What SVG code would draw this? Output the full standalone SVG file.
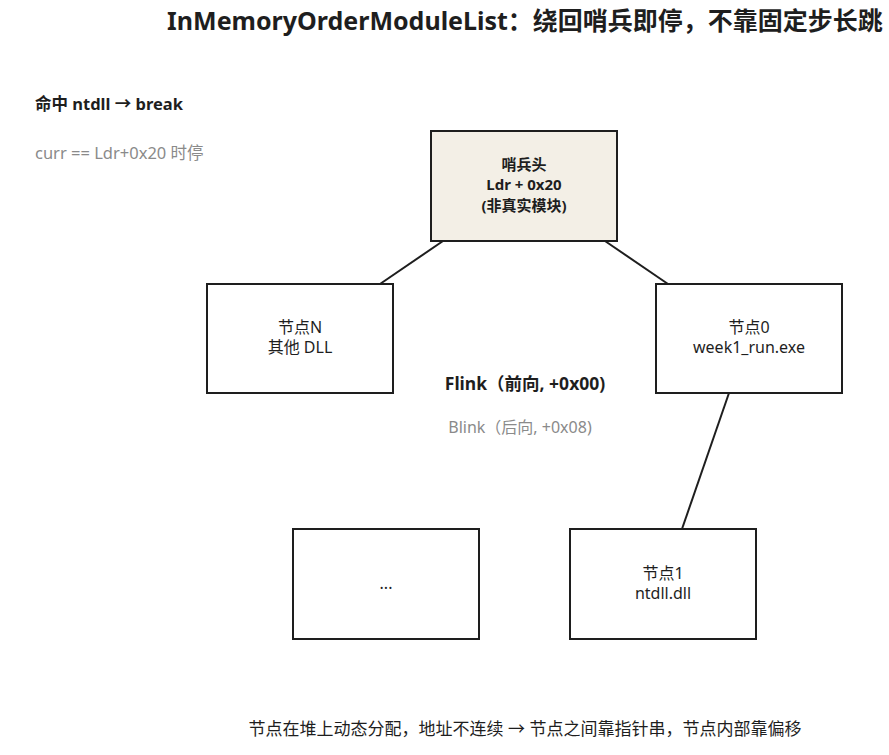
<svg xmlns="http://www.w3.org/2000/svg" width="889" height="755" viewBox="0 0 889 755">
<style>
text{font-family:"Noto Sans","Noto Sans CJK SC",sans-serif;fill:#1e1e1e}
.box{fill:#fff;stroke:#1e1e1e;stroke-width:2}
.n{font-size:16px;text-anchor:middle}
.g{fill:#8a8a8a}
</style>
<rect width="889" height="755" fill="#fff"/>
<text x="525" y="30" font-size="25" font-weight="bold" text-anchor="middle">InMemoryOrderModuleList：绕回哨兵即停，不靠固定步长跳</text>
<text x="35" y="110" font-size="16.5" font-weight="bold">命中 ntdll → break</text>
<text x="35" y="159" font-size="16.5" class="g">curr == Ldr+0x20 时停</text>
<g id="connectors" stroke="#1e1e1e" stroke-width="2">
<line x1="443" y1="241" x2="380" y2="284"/>
<line x1="605" y1="241" x2="668" y2="284"/>
<line x1="729" y1="393" x2="682" y2="529"/>
</g>
<g id="sentinel"><rect x="431" y="131" width="186" height="110" class="box" style="fill:#f3efe6"/>
<text class="n" font-weight="bold" style="font-size:15px"><tspan x="524" y="170">哨兵头</tspan><tspan x="524" y="190">Ldr + 0x20</tspan><tspan x="524" y="211">(非真实模块)</tspan></text></g>
<g id="nodeN"><rect x="207" y="284" width="186" height="109" class="box"/>
<text class="n"><tspan x="300" y="333">节点N</tspan><tspan x="300" y="353">其他 DLL</tspan></text></g>
<g id="node0"><rect x="656" y="284" width="186" height="109" class="box"/>
<text class="n"><tspan x="749" y="333">节点0</tspan><tspan x="749" y="353">week1_run.exe</tspan></text></g>
<g id="dots"><rect x="293" y="529" width="186" height="110" class="box"/>
<text class="n" x="386" y="589">...</text></g>
<g id="node1"><rect x="570" y="529" width="186" height="110" class="box"/>
<text class="n"><tspan x="663" y="579">节点1</tspan><tspan x="663" y="599">ntdll.dll</tspan></text></g>
<text x="525" y="390" font-size="17.5" font-weight="bold" text-anchor="middle">Flink（前向, +0x00)</text>
<text x="520" y="433" font-size="16" text-anchor="middle" class="g">Blink（后向, +0x08)</text>
<text x="525" y="735" font-size="17" text-anchor="middle">节点在堆上动态分配，地址不连续 → 节点之间靠指针串，节点内部靠偏移</text>
</svg>
